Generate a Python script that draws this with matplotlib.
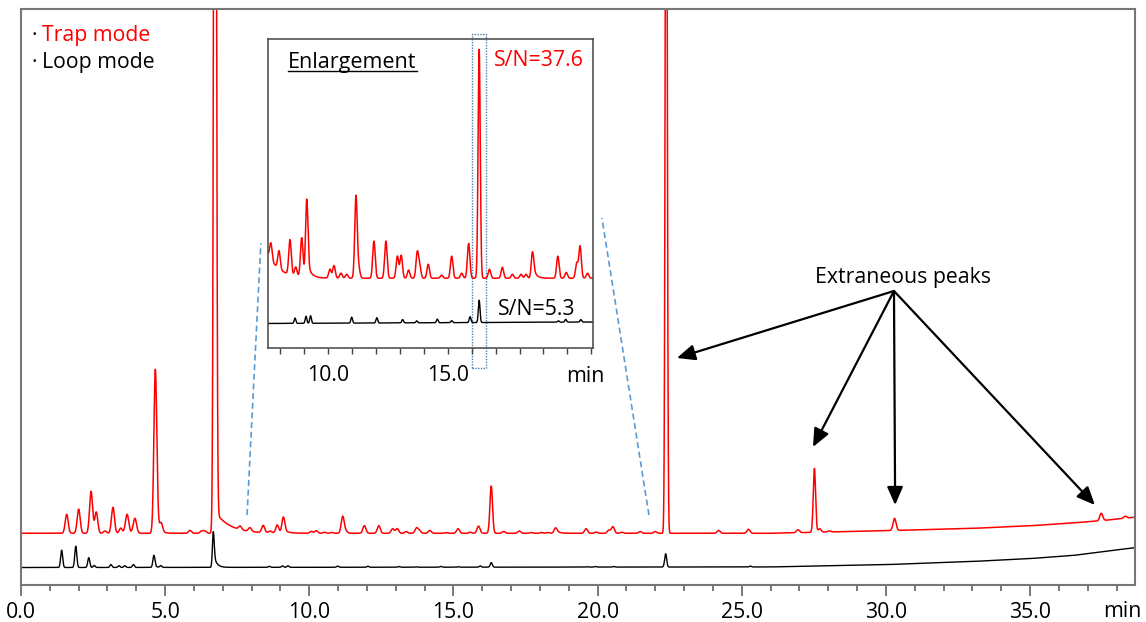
import numpy as np
import matplotlib
matplotlib.use("Agg")
import matplotlib.pyplot as plt
import matplotlib.transforms as mtransforms
from matplotlib.lines import Line2D
from matplotlib.patches import Rectangle

plt.rcParams['font.family'] = ['Open Sans', 'DejaVu Sans']

# --- data (time in min, signal in arbitrary units) ---
base_t = [0.0, 26.0, 30.0, 33.0, 35.0, 36.5, 37.5, 38.64]
red_base = [8.9, 8.9, 9.35, 9.75, 10.2, 10.7, 11.1, 11.7]
black_base = [2.95, 3.05, 3.45, 4.0, 4.5, 5.05, 5.7, 6.4]

red_rt = [1.585, 2.0, 2.43, 2.61, 2.91, 3.19, 3.46, 3.68, 3.95, 4.66, 4.86, 5.86,
          6.27, 6.38, 6.73, 7.60, 7.94, 8.40, 8.64, 8.89, 9.10, 10.07, 10.24, 10.53,
          10.77, 11.16, 11.28, 11.91, 12.41, 12.89, 13.05, 13.36, 13.72, 13.82, 14.18,
          14.74, 15.16, 15.58, 15.87, 16.31, 16.74, 17.28, 17.70, 18.06, 18.27, 18.54,
          19.60, 19.95, 20.39, 20.53, 20.84, 21.48, 22.0, 22.38, 24.2, 25.23, 26.95,
          27.52, 27.70, 28.04, 30.30, 37.47, 38.30]
red_h = [3.3, 4.2, 7.3, 3.7, 0.4, 4.5, 0.9, 3.3, 2.6, 28.5, 1.5, 0.5,
         0.4, 0.4, 250, 0.6, 0.65, 1.25, 0.32, 1.4, 2.8, 0.32, 0.45, 0.18,
         0.14, 2.95, 0.32, 1.33, 1.33, 0.79, 0.82, 0.29, 0.9, 0.45, 0.5,
         0.11, 0.79, 0.18, 1.25, 8.2, 0.32, 0.39, 0.14, 0.14, 0.14, 0.95,
         0.79, 0.21, 0.54, 1.15, 0.18, 0.3, 0.3, 160, 0.5, 0.7, 0.5,
         11.1, 0.6, 0.2, 2.1, 1.3, 0.35]
# peaks with their own width / tailing: rt -> (sigma, tail amplitude, tail decay)
red_shape = {3.68: (0.058, 0, 1), 3.95: (0.058, 0, 1), 4.66: (0.05, 2.0, 0.12),
             6.73: (0.04, 3.8, 0.5), 9.10: (0.05, 0.6, 0.15),
             16.31: (0.045, 0, 1), 18.54: (0.05, 0.5, 0.12), 22.38: (0.033, 0, 1),
             27.52: (0.04, 0, 1)}

black_rt = [1.41, 1.90, 2.35, 2.54, 3.12, 3.40, 3.60, 3.90, 4.61, 4.85, 6.67, 8.61,
            9.07, 9.26, 10.98, 12.03, 13.11, 13.70, 14.56, 15.16, 15.93, 16.31,
            19.62, 19.93, 20.56, 22.36, 25.3]
black_h = [3.0, 3.7, 1.7, 0.35, 0.5, 0.3, 0.3, 0.5, 2.1, 0.3, 6.2, 0.19,
           0.25, 0.27, 0.21, 0.19, 0.12, 0.07, 0.13, 0.07, 0.21, 0.8,
           0.05, 0.1, 0.09, 2.3, 0.15]
black_shape = {4.61: (0.035, 0.4, 0.08), 6.67: (0.03, 2.5, 0.1)}

main_ticks = [0, 5, 10, 15, 20, 25, 30, 35]
inset_ticks = [10, 15]

t = np.linspace(0, 38.64, 20000)


def build(base_y, rts, hs, sigma, shape):
    y = np.interp(t, base_t, base_y)
    for rt, h in zip(rts, hs):
        s, amp, tau = shape.get(rt, (sigma, 0, 1))
        y = y + h * np.exp(-0.5 * ((t - rt) / s) ** 2)
        if amp:
            d = np.clip(t - rt, 0, None)
            y = y + amp * np.exp(-d / tau) * (1 - np.exp(-0.5 * (d / s) ** 2))
    return y


red = build(red_base, red_rt, red_h, 0.052, red_shape)
black = build(black_base, black_rt, black_h, 0.035, black_shape)

W, H = 1146, 622
fig = plt.figure(figsize=(W / 100, H / 100), dpi=100)


def fx(x):
    return x / W


def fy(y):
    return 1 - y / H


FS = 15.3

# main chromatogram
ax = fig.add_axes([fx(21), fy(584.5), fx(1135) - fx(21), fy(9) - fy(584.5)])
ax.plot(t, red, color='#ff0000', lw=1.1)
ax.plot(t, black, color='k', lw=1.0)
ax.set_xlim(0, 38.64)
ax.set_ylim(0, 100)
ax.set_yticks([])
ax.set_xticks(main_ticks, labels=['%.1f' % v for v in main_ticks])
ax.set_xticks(np.arange(0, 39), minor=True)
ax.tick_params(axis='x', which='major', direction='out', length=8, width=1.1,
               color='#555555', labelsize=FS, pad=4.5)
ax.tick_params(axis='x', which='minor', direction='out', length=4.5, width=1.1,
               color='#555555')
for sp in ax.spines.values():
    sp.set_color('#777777')
    sp.set_linewidth(1.5)

fig.text(fx(1122), fy(617), 'min', ha='center', va='baseline', size=FS)

# legend
fig.text(fx(34.5), fy(40.7), '\u00b7', ha='center', va='baseline', size=FS)
fig.text(fx(41.7), fy(40.7), 'Trap mode', color='#ff0000', ha='left', va='baseline', size=FS)
fig.text(fx(34.5), fy(68.3), '\u00b7', ha='center', va='baseline', size=FS)
fig.text(fx(41.7), fy(68.3), 'Loop mode', color='k', ha='left', va='baseline', size=FS)

# dashed connectors to the enlargement
dash = dict(color='#5b9bd5', lw=1.2, ls=(0, (3.6, 2.2)))
ax.plot([7.84, 8.32], [12.08, 59.3], **dash)
ax.plot([21.78, 20.15], [12.08, 63.7], **dash)

# extraneous peaks annotation
ax.text(30.59, 52.44, 'Extraneous peaks', ha='center', va='baseline', size=FS)
for tip in [(22.75, 39.36), (27.47, 23.9), (30.32, 13.81), (37.25, 13.81)]:
    ax.annotate('', xy=tip, xytext=(30.28, 51.0),
                arrowprops=dict(arrowstyle='-|>,head_length=0.55,head_width=0.24',
                                mutation_scale=20, lw=1.6, color='k',
                                shrinkA=0, shrinkB=0))

# enlargement inset
axin = fig.add_axes([fx(268), fy(348), fx(593) - fx(268), fy(39) - fy(348)])
axin.plot(t, red, color='#ff0000', lw=1.1)
axin.plot(t, black + 4.3, color='k', lw=1.0)
axin.set_xlim(7.48, 21.07)
axin.set_ylim(6.4, 17.47)
axin.set_yticks([])
inset_minor = np.arange(8, 22)
axin.set_xticks(inset_minor,
                labels=['%.1f' % v if v in inset_ticks else '' for v in inset_minor])
axin.tick_params(axis='x', direction='out', length=4, width=1.0, color='#444444',
                 labelsize=FS, pad=8.5)
for sp in axin.spines.values():
    sp.set_color('#444444')
    sp.set_linewidth(1.1)

fig.text(fx(585), fy(381.7), 'min', ha='center', va='baseline', size=FS)

trans = mtransforms.blended_transform_factory(axin.transData, axin.transAxes)
axin.add_patch(Rectangle((16.0, -0.065), 0.59, 1.08, transform=trans, fill=False,
                         ec='#4f7fb0', lw=1.0, ls=(0, (1, 1)), clip_on=False))

fig.text(fx(288.3), fy(67.7), 'Enlargement', ha='left', va='baseline', size=15.5)
fig.add_artist(Line2D([fx(288.3), fx(416.5)], [fy(70.7), fy(70.7)], color='k', lw=1.0))
fig.text(fx(494.3), fy(66), 'S/N=37.6', color='#ff0000', ha='left', va='baseline', size=FS)
fig.text(fx(498), fy(315), 'S/N=5.3', color='k', ha='left', va='baseline', size=FS)

fig.savefig('out.png', dpi=100)
